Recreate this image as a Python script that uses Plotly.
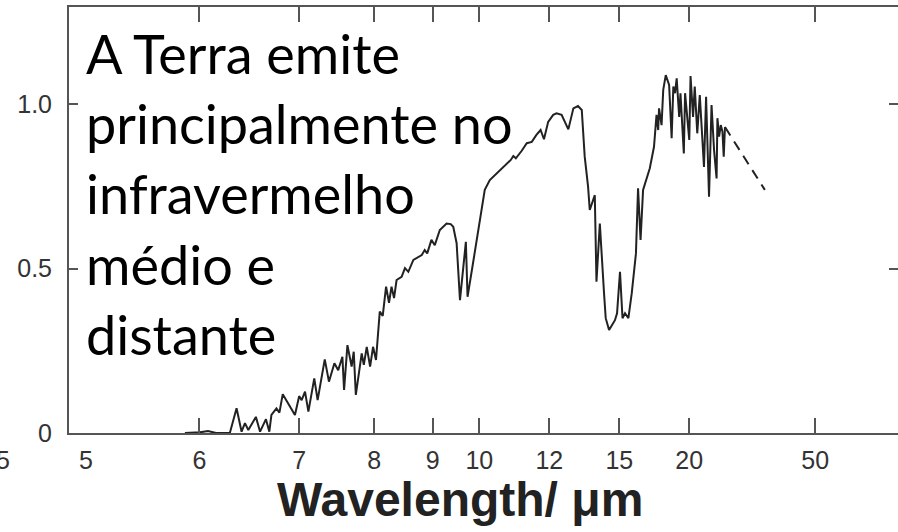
import plotly.graph_objects as go

# Spectrum: wavenumber (cm^-1) and relative radiance
wavenumber = [1701, 1665, 1646, 1627, 1594, 1578, 1566, 1558, 1550, 1532,
              1522, 1508, 1500, 1495, 1483, 1476, 1468, 1455, 1439, 1429,
              1423, 1415, 1407, 1393, 1385, 1368, 1358, 1345, 1336, 1326,
              1322, 1314, 1304, 1299, 1294, 1280, 1275, 1268, 1260, 1253,
              1246, 1237, 1230, 1222, 1215, 1209, 1203, 1197, 1185, 1177,
              1169, 1157, 1145, 1137, 1130, 1124, 1114, 1106, 1094, 1086,
              1078, 1068, 1062, 1054, 1046, 1032, 1028, 1015, 999, 987,
              975, 967, 951, 939, 925, 919, 913, 899, 887, 875,
              864, 854, 846, 836, 824, 816, 804, 788, 776, 765,
              756, 749, 741, 737, 725, 721, 713, 703, 699, 691,
              677, 672, 665, 659, 653, 645, 637, 627, 622, 616,
              610, 594, 584, 578, 574, 572, 566, 562, 556, 548,
              542, 538, 534, 530, 524, 521, 516, 513, 510, 505,
              500, 497, 491, 487, 481, 475, 465, 460, 453, 447,
              441, 435, 433, 429, 425, 421, 418, 415]
radiance = [0, 0.002, 0.006, 0, 0, 0.075, 0.004, 0.030, 0.009, 0.049,
            0.004, 0.042, 0.004, 0.055, 0.075, 0.062, 0.118, 0.090, 0.055, 0.112,
            0.100, 0.126, 0.065, 0.166, 0.100, 0.224, 0.156, 0.212, 0.191, 0.232,
            0.131, 0.267, 0.202, 0.247, 0.116, 0.242, 0.207, 0.262, 0.202, 0.262,
            0.222, 0.369, 0.356, 0.445, 0.396, 0.445, 0.410, 0.465, 0.475, 0.501,
            0.490, 0.526, 0.536, 0.541, 0.556, 0.546, 0.587, 0.571, 0.617, 0.627,
            0.637, 0.635, 0.627, 0.577, 0.404, 0.581, 0.414, 0.516, 0.637, 0.739,
            0.769, 0.779, 0.799, 0.815, 0.830, 0.842, 0.835, 0.858, 0.881, 0.885,
            0.906, 0.921, 0.893, 0.946, 0.967, 0.972, 0.967, 0.923, 0.987, 0.994,
            0.982, 0.840, 0.749, 0.678, 0.723, 0.460, 0.637, 0.425, 0.349, 0.313,
            0.343, 0.364, 0.490, 0.349, 0.364, 0.349, 0.425, 0.546, 0.744, 0.587,
            0.739, 0.805, 0.870, 0.967, 0.921, 0.987, 0.936, 1.043, 1.088, 1.058,
            0.896, 1.053, 1.033, 1.078, 0.961, 1.033, 0.921, 0.850, 1.033, 0.951,
            0.891, 1.085, 0.961, 1.053, 0.911, 1.027, 0.809, 1.022, 0.718, 0.997,
            0.860, 0.774, 0.957, 0.901, 0.936, 0.916, 0.840, 0.930]

# Dashed extrapolated tail
tail_wavenumber = [415, 368, 320]
tail_radiance = [0.930, 0.837, 0.739]

# Axis ticks
wavelength_ticks = [6, 7, 8, 9, 10, 12, 15, 20, 50]
wavelength_labels = ["6", "7", "8", "9", "10", "12", "15", "20", "50"]
y_ticks = [0, 0.5, 1.0]
y_labels = ["0", "0.5", "1.0"]

annotation_text = "A Terra emite<br>principalmente no<br>infravermelho<br>médio e<br>distante"
axis_title = "<b>Wavelength/ μm</b>"

L, R, T, B = 69, 0, 7, 99
W, H = 898, 532
pw, ph = W - L - R, H - T - B

def px(x):
    return (x - L) / pw

def py(y):
    return (H - B - y) / ph

fig = go.Figure()
fig.add_trace(go.Scatter(x=wavenumber, y=radiance, mode="lines",
                         line=dict(color="#222222", width=2),
                         showlegend=False, hoverinfo="skip"))
fig.add_trace(go.Scatter(x=tail_wavenumber, y=tail_radiance, mode="lines",
                         line=dict(color="#222222", width=2, dash="10px,7px"),
                         showlegend=False, hoverinfo="skip"))

tickfont = dict(family="Liberation Sans, Arial, sans-serif", size=25, color="#333333")

fig.update_xaxes(range=[1977, 3], tickmode="array", automargin=False,
                 tickvals=[1e4 / w for w in wavelength_ticks], ticktext=wavelength_labels,
                 ticks="inside", ticklen=15, tickwidth=2, tickcolor="#555555",
                 showline=True, linecolor="#555555", linewidth=2, mirror="ticks",
                 showgrid=False, zeroline=False, tickfont=tickfont, ticklabelstandoff=4)
fig.update_yaxes(range=[0, 1.295], tickmode="array", tickvals=y_ticks, ticktext=y_labels,
                 automargin=False,
                 ticks="inside", ticklen=9, tickwidth=2, tickcolor="#555555",
                 showline=True, linecolor="#555555", linewidth=2, mirror="ticks",
                 showgrid=False, zeroline=False, tickfont=tickfont, ticklabelstandoff=10)

fig.add_annotation(x=px(86), y=py(460), xref="paper", yref="paper", text="5",
                   showarrow=False, font=tickfont, xanchor="center", yanchor="middle")
fig.add_annotation(x=px(12), y=py(460), xref="paper", yref="paper", text="5",
                   showarrow=False, font=tickfont, xanchor="right", yanchor="middle")
fig.add_annotation(x=px(460), y=py(499), xref="paper", yref="paper", text=axis_title,
                   showarrow=False, xanchor="center", yanchor="middle",
                   font=dict(family="Liberation Sans, Arial, sans-serif", size=48, color="#222222"))
fig.add_annotation(x=px(84), y=py(194), xref="paper", yref="paper", text=annotation_text,
                   showarrow=False, xanchor="left", yanchor="middle", align="left",
                   font=dict(family="Lato, sans-serif", size=54, color="#000000"))

fig.update_layout(width=W, height=H, margin=dict(l=L, r=R, t=T, b=B, autoexpand=False),
                  paper_bgcolor="white", plot_bgcolor="white")
fig.write_html("out.html", config={"displayModeBar": False},
               post_script="document.body.style.margin='0px';")
